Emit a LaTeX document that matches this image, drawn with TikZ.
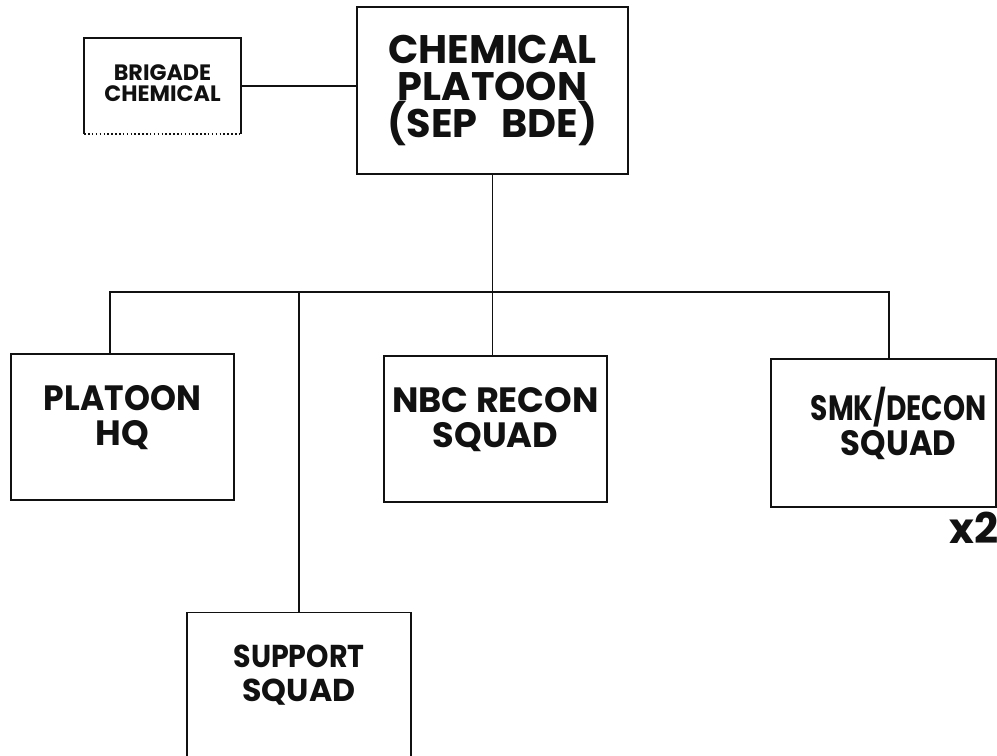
\documentclass[tikz,border=0pt]{standalone}
\usepackage{fontspec}
\newfontfamily\orgfont{Poppins}
\usetikzlibrary{positioning,calc}
\definecolor{ink}{HTML}{111111}
\tikzset{unit/.style={draw=ink,line width=1.3pt,inner sep=0pt,align=center,text=ink},
  squad/.style={unit,minimum width=6.69cm,minimum height=4.38cm,text depth=20pt,
    font=\orgfont\bfseries\fontsize{30}{30}\selectfont},
  link/.style={draw=ink,line width=1.3pt}}

\begin{document}
\begin{tikzpicture}[x=0.03cm,y=-0.03cm]
    \useasboundingbox (0,0) rectangle (997,756);
    % top of the chart
    \node[unit,draw=none,minimum width=4.65cm,minimum height=2.82cm,text depth=5pt,
      font=\orgfont\bfseries\fontsize{19}{18.5}\selectfont] (brig) at (162.5,86) {BRIGADE\\CHEMICAL};
    \draw[link] (brig.south west) -- (brig.north west) -- (brig.north east) -- (brig.south east);
    \draw[link,dotted] (brig.south west) -- (brig.south east);
    \node[unit,minimum width=8.13cm,minimum height=5.01cm,
      font=\orgfont\bfseries\fontsize{34}{31.5}\selectfont] (plat) at (492.5,90.5) {CHEMICAL\\PLATOON\\(SEP\hspace{0.6em}BDE)};
    % squads
    \node[squad] (hq) at (122.5,427) {\scalebox{0.94}[1]{PLATOON}\\HQ};
    \node[squad] (nbc) at (495.5,429) {NBC RECON\\SQUAD};
    \node[squad,minimum width=6.75cm,minimum height=4.44cm] (smk) at (883.5,433)
      {\hspace*{26pt}\scalebox{0.8}[1]{SMK/DECON}\\\hspace*{26pt}\scalebox{0.92}[1]{SQUAD}};
    \node[squad,minimum width=6.72cm,minimum height=4.35cm,
      font=\orgfont\bfseries\fontsize{27}{29}\selectfont] (sup) at (299,685) {\scalebox{0.9}[1]{SUPPORT}\\SQUAD};
    \node[text=ink,inner sep=0pt,font=\orgfont\bfseries\fontsize{36}{36}\selectfont] (times) at (974,528) {x2};
    \coordinate (busL) at (110,292);
    \coordinate (busR) at (889,292);
    \draw[link] (brig.east) -- (brig.east -| plat.west);
    \draw[link] (plat.south) -- (plat.south |- nbc.north);
    \draw[link] (busL |- hq.north) -- (busL) -- (busR) -- (busR |- smk.north);
    \draw[link] (sup.north) -- (sup.north |- busL);
  \end{tikzpicture}
\end{document}
